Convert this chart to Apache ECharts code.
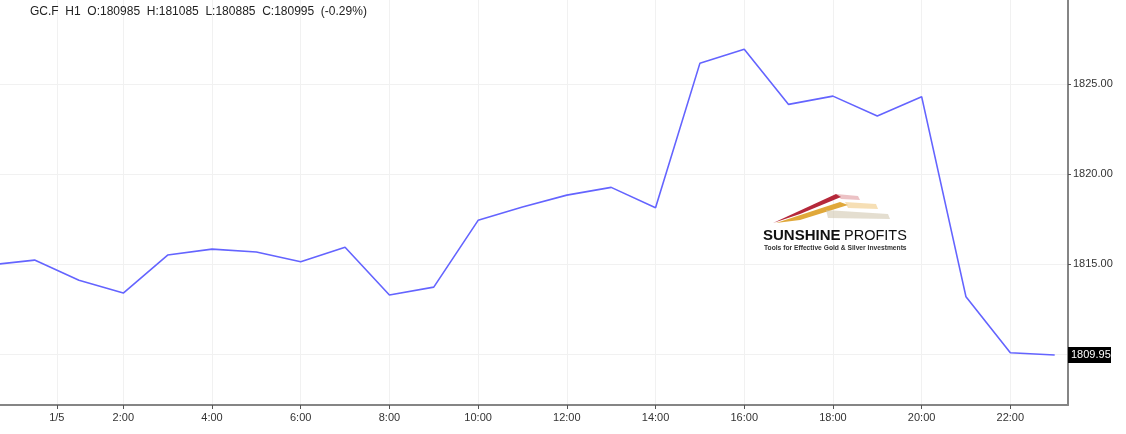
<!DOCTYPE html>
<html>
<head>
<meta charset="utf-8">
<script src="https://cdn.jsdelivr.net/npm/echarts@6/dist/echarts.min.js"></script>
<style>
html,body{margin:0;padding:0;background:#fff;}
#c{width:1126px;height:434px;}
</style>
</head>
<body>
<div id="c"></div>
<script>
// ---- data ----
const hours = [-1,0,1,2,3,4,5,6,7,8,9,10,11,12,13,14,15,16,17,18,19,20,21,22,23];
const closes = [1814.95,1815.22,1814.10,1813.39,1815.50,1815.83,1815.67,1815.13,1815.93,1813.28,1813.72,1817.43,1818.17,1818.83,1819.26,1818.13,1826.15,1826.93,1823.87,1824.33,1823.22,1824.30,1813.18,1810.07,1809.95];
const xTickValues = [0.5,2,4,6,8,10,12,14,16,18,20,22];
const xTickLabels = ['1/5','2:00','4:00','6:00','8:00','10:00','12:00','14:00','16:00','18:00','20:00','22:00'];
const yTickValues = [1810,1815,1820,1825];
const yLabelValues = [1815,1820,1825];
const lastClose = 1809.95;
const titleText = 'GC.F  H1  O:180985  H:181085  L:180885  C:180995  (-0.29%)';
const logoTitle = 'SUNSHINE';
const logoTitle2 = 'PROFITS';
const logoSub = 'Tools for Effective Gold & Silver Investments';

const X_MIN = -0.78, X_MAX = 23.3;
const Y_MIN = 1807.17, Y_MAX = 1829.67;
const FONT = '"Liberation Sans", Arial, sans-serif';

const chart = echarts.init(document.getElementById('c'), null, {renderer:'canvas'});
const seriesData = hours.map((h,i)=>[h, closes[i]]);

chart.setOption({
  animation:false,
  backgroundColor:'#ffffff',
  grid:{left:0, right:58, top:0, bottom:29, containLabel:false},
  xAxis:{
    type:'value', min:X_MIN, max:X_MAX,
    axisLine:{show:true, lineStyle:{color:'#858585', width:2}},
    axisTick:{show:true, customValues:xTickValues, length:4, lineStyle:{color:'#555', width:1}},
    axisLabel:{show:true, customValues:xTickValues, margin:7, fontSize:11, color:'#333', fontFamily:FONT,
      formatter:function(v){ const i = xTickValues.indexOf(v); return i>=0 ? xTickLabels[i] : ''; }},
    splitLine:{show:true, lineStyle:{color:'#f1f1f1', width:1}}
  },
  yAxis:{
    type:'value', position:'right', min:Y_MIN, max:Y_MAX,
    axisLine:{show:true, onZero:false, lineStyle:{color:'#858585', width:2}},
    axisTick:{show:true, customValues:yTickValues, length:3, lineStyle:{color:'#555', width:1}},
    axisLabel:{show:true, customValues:yLabelValues, margin:5, fontSize:11, color:'#333', fontFamily:FONT,
      formatter:function(v){ return v.toFixed(2); }},
    splitLine:{show:true, lineStyle:{color:'#f1f1f1', width:1}}
  },
  series:[{
    type:'line', data:seriesData, showSymbol:false, symbol:'none',
    lineStyle:{color:'#6464ff', width:1.6}, clip:true, z:3
  }]
});

const pEnd = chart.convertToPixel({gridIndex:0}, [X_MAX, lastClose]);
const axX = pEnd[0], py = pEnd[1];
const lbl = lastClose.toFixed(2);

chart.setOption({
  graphic:[
    {type:'text', left:30, top:6, z:10,
     style:{text:titleText, font:'12px '+FONT, fill:'#222'}},
    // price box
    {type:'rect', x:axX, y:py-8, z:10, shape:{x:0,y:0,width:43,height:16}, style:{fill:'#000'}},
    {type:'text', x:axX+3, y:py, z:11, style:{text:lbl, font:'11px '+FONT, fill:'#fff', textVerticalAlign:'middle'}},
    // logo swooshes
    {type:'polygon', z:5, shape:{points:[[773,223],[836,194],[841,197],[800,214]]}, style:{fill:'#b5283a'}},
    {type:'polygon', z:5, shape:{points:[[836,194],[858,196],[860,200],[841,199]]}, style:{fill:'rgba(200,80,90,0.35)'}},
    {type:'polygon', z:5, shape:{points:[[776,223],[840,202],[848,205],[800,220]]}, style:{fill:'#e0a83a'}},
    {type:'polygon', z:5, shape:{points:[[845,202],[876,204],[878,209],[848,208]]}, style:{fill:'rgba(235,185,90,0.45)'}},
    {type:'polygon', z:5, shape:{points:[[826,210],[888,214],[890,219],[828,218]]}, style:{fill:'rgba(205,195,170,0.55)'}},
    {type:'text', x:763, y:236, z:6, style:{text:logoTitle, font:'bold 15px '+FONT, fill:'#111', textVerticalAlign:'middle'}},
    {type:'text', x:844, y:236, z:6, style:{text:logoTitle2, font:'14.5px '+FONT, fill:'#111', textVerticalAlign:'middle'}},
    {type:'text', x:764, y:248, z:6, style:{text:logoSub, font:'bold 6.7px '+FONT, fill:'#333', textVerticalAlign:'middle'}}
  ]
});
</script>
</body>
</html>
